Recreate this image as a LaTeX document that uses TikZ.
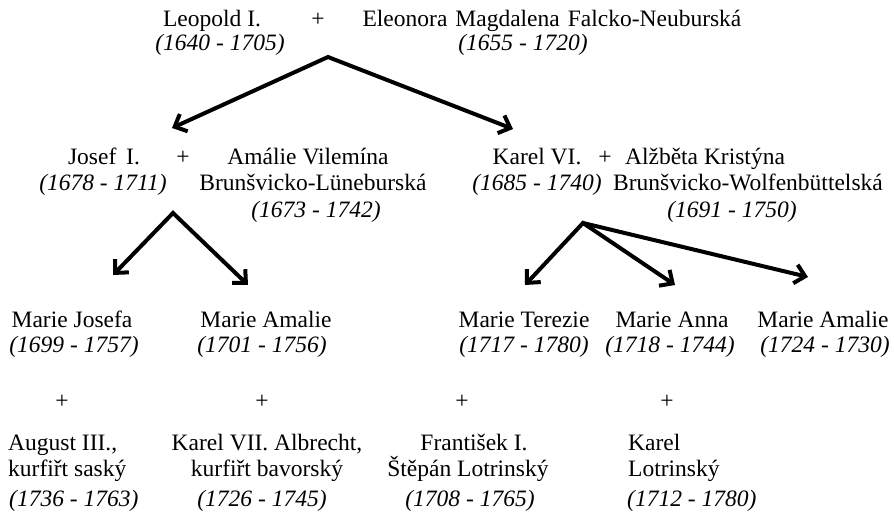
\documentclass[tikz,border=0pt]{standalone}
\usepackage{fontspec}
\setmainfont{Liberation Serif}
\usetikzlibrary{arrows.meta}

\begin{document}
\begin{tikzpicture}[x=1pt, y=-1pt, >={Straight Barb[length=10pt,width=19pt]},
    txt/.style={anchor=base, inner sep=0pt, font=\fontsize{23.5}{28}\selectfont},
    yrs/.style={txt, font=\fontsize{23.5}{28}\selectfont\itshape},
    link/.style={line width=4pt}]
    \useasboundingbox (0,0) rectangle (894,521);

    % first generation
    \node[txt] (leopold) at (212,27) {Leopold I.};
    \node[yrs] (leopoldY) at (220,51) {(1640 - 1705)};
    \node[txt] (plusA) at (318,27) {+};
    \node[txt] (eleonora) at (552,27) {\spaceskip=8pt\relax Eleonora Magdalena Falcko-Neuburská};
    \node[yrs] (eleonoraY) at (523,51) {(1655 - 1720)};

    % sons and their wives
    \node[txt] (josef) at (104,165) {Josef\, I.};
    \node[yrs] (josefY) at (103,191) {(1678 - 1711)};
    \node[txt] (plusB) at (183,165) {+};
    \node[txt] (amalie) at (308,165) {Amálie Vilemína};
    \node[txt] (amalieB) at (313,191) {Brunšvicko-Lüneburská};
    \node[yrs] (amalieY) at (316,218) {(1673 - 1742)};

    \node[txt] (karel) at (537,165) {Karel VI.};
    \node[yrs] (karelY) at (537,191) {(1685 - 1740)};
    \node[txt] (plusC) at (605,165) {+};
    \node[txt] (alzbeta) at (705,165) {Alžběta Kristýna};
    \node[txt] (alzbetaB) at (748,191) {Brunšvicko-Wolfenbüttelská};
    \node[yrs] (alzbetaY) at (732,218) {(1691 - 1750)};

    % daughters
    \node[txt] (mjosefa) at (72,327) {Marie Josefa};
    \node[yrs] (mjosefaY) at (74,352) {(1699 - 1757)};
    \node[txt] (mamalie) at (266,327) {Marie Amalie};
    \node[yrs] (mamalieY) at (262,352) {(1701 - 1756)};
    \node[txt] (mterezie) at (524,327) {Marie Terezie};
    \node[yrs] (mterezieY) at (524,352) {(1717 - 1780)};
    \node[txt] (manna) at (672,327) {Marie Anna};
    \node[yrs] (mannaY) at (670,352) {(1718 - 1744)};
    \node[txt] (mamalieB) at (823,327) {Marie Amalie};
    \node[yrs] (mamalieBY) at (825,352) {(1724 - 1730)};

    \foreach \x/\n in {62/D, 262/E, 462/F, 667/G}
        \node[txt] (plus\n) at (\x,408) {+};

    % husbands
    \node[txt, anchor=base west] (august) at (8,450) {August III.,};
    \node[txt, anchor=base west] (augustB) at (8,476) {kurfiřt saský};
    \node[yrs, anchor=base west] (augustY) at (9,506) {(1736 - 1763)};
    \node[txt] (albrecht) at (267,450) {Karel VII. Albrecht,};
    \node[txt] (albrechtB) at (267,476) {kurfiřt bavorský};
    \node[yrs] (albrechtY) at (262,506) {(1726 - 1745)};
    \node[txt] (frantisek) at (474,450) {František I.};
    \node[txt] (frantisekB) at (468,476) {Štěpán Lotrinský};
    \node[yrs] (frantisekY) at (470,506) {(1708 - 1765)};
    \node[txt, anchor=base west] (karelL) at (628,450) {Karel};
    \node[txt, anchor=base west] (karelLB) at (628,476) {Lotrinský};
    \node[yrs, anchor=base west] (karelLY) at (627,506) {(1712 - 1780)};

    % arrows
    \coordinate (topA) at (328,57);
    \coordinate (topB) at (173,213);
    \coordinate (topC) at (583,223);
    \coordinate (toJosef) at (172,128);
    \coordinate (toKarel) at (513,129);
    \coordinate (toMJosefa) at (113,275);
    \coordinate (toMAmalie) at (248,285);
    \coordinate (toMTerezie) at (525,285);
    \coordinate (toMAnna) at (675,285);
    \coordinate (toMAmalieB) at (808,277);
    \draw[link, <->] (toJosef) -- (topA) -- (toKarel);
    \draw[link, <->] (toMJosefa) -- (topB) -- (toMAmalie);
    \draw[link, <->] (toMTerezie) -- (topC) -- (toMAnna);
    \draw[link, ->] (topC) -- (toMAmalieB);
\end{tikzpicture}
\end{document}
